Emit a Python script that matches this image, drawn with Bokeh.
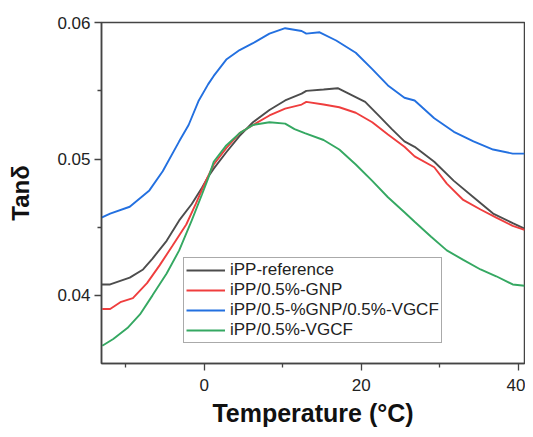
from bokeh.plotting import figure
from bokeh.models import Range1d, Legend, LegendItem, FixedTicker
from bokeh.embed import file_html
from bokeh.resources import INLINE

# ---- data ----
ref_x = [-13.1, -12, -9.5, -7.8, -6.6, -4.8, -3.2, -1.6, -0.3, 0.5, 1.2, 2.8, 4.5, 6.2, 8.3, 10.3, 12.4, 13.0,
         15.2, 17.0, 18.4, 20.5, 22.2, 23.9, 25.5, 26.8, 29.3, 31.8, 34.3, 36.8, 39.3, 40.8]
ref_y = [0.0408, 0.0408, 0.0413, 0.0419, 0.0427, 0.0440, 0.0455, 0.0467, 0.0479, 0.0487, 0.0493, 0.0505,
         0.0517, 0.0527, 0.0536, 0.0543, 0.0548, 0.0550, 0.0551, 0.0552, 0.0548, 0.0542, 0.0532, 0.0522,
         0.0513, 0.0509, 0.0498, 0.0484, 0.0472, 0.0460, 0.0453, 0.0449]

gnp_x = [-13.0, -12, -10.7, -9.1, -7.3, -5.7, -4.1, -2.3, -1.1, 0.2, 1.2, 2.8, 4.5, 6.2, 8.3, 10.3, 12.4, 13.0,
         15.2, 17.2, 19.3, 21.4, 23.4, 25.5, 26.8, 29.3, 30.9, 33.0, 35.2, 37.2, 39.3, 40.8]
gnp_y = [0.0390, 0.0390, 0.0395, 0.0398, 0.0409, 0.0422, 0.0436, 0.0452, 0.0467, 0.0484, 0.0496, 0.0508,
         0.0519, 0.0525, 0.0532, 0.0537, 0.0540, 0.0542, 0.0540, 0.0538, 0.0534, 0.0527, 0.0518, 0.0509,
         0.0502, 0.0494, 0.0482, 0.0470, 0.0463, 0.0457, 0.0451, 0.0448]

hyb_x = [-13.1, -12, -9.5, -7, -5.3, -3.2, -2, -0.7, 0.5, 1.2, 2.8, 4.5, 6.2, 8.3, 10.3, 12.4, 13.0, 14.7,
         16.8, 19.3, 21.4, 23.4, 25.5, 26.8, 29.3, 31.8, 34.3, 36.8, 39.3, 40.8]
hyb_y = [0.0457, 0.0460, 0.0465, 0.0477, 0.0491, 0.0513, 0.0525, 0.0543, 0.0555, 0.0561, 0.0573, 0.0580,
         0.0585, 0.0592, 0.0596, 0.0594, 0.0592, 0.0593, 0.0587, 0.0578, 0.0566, 0.0554, 0.0545, 0.0543,
         0.0530, 0.0520, 0.0513, 0.0507, 0.0504, 0.0504]

vgcf_x = [-13.0, -11.6, -9.8, -8.2, -6.6, -4.8, -3.2, -1.6, -0.3, 0.5, 1.2, 2.8, 4.5, 6.2, 8.3, 10.3, 11.5,
          12.8, 15.2, 17.2, 19.3, 21.4, 23.4, 25.5, 26.8, 28.9, 30.9, 33.0, 35.2, 37.2, 39.3, 40.8]
vgcf_y = [0.0363, 0.0368, 0.0376, 0.0386, 0.0400, 0.0416, 0.0433, 0.0455, 0.0474, 0.0486, 0.0498, 0.0510,
          0.0519, 0.0525, 0.0527, 0.0526, 0.0522, 0.0519, 0.0514, 0.0507, 0.0496, 0.0484, 0.0472, 0.0461,
          0.0454, 0.0443, 0.0433, 0.0426, 0.0419, 0.0414, 0.0408, 0.0407]

labels = ["iPP-reference", "iPP/0.5%-GNP", "iPP/0.5-%GNP/0.5%-VGCF", "iPP/0.5%-VGCF"]
colors = ["#4d4d4d", "#ef3e3e", "#2370e0", "#35a862"]

x_ticks = [0, 20, 40]
x_minor = [-10, 10, 30]
y_ticks = [0.04, 0.05, 0.06]
y_minor = [0.045, 0.055]

FONT = "Liberation Sans"
AX = "#444444"

p = figure(width=525, height=429, output_backend="svg", toolbar_location=None,
           x_range=Range1d(-13.1, 40.8), y_range=Range1d(0.035, 0.06002),
           min_border_left=101, min_border_right=1, min_border_top=22, min_border_bottom=63)

p.xgrid.visible = False
p.ygrid.visible = False
p.outline_line_color = AX
p.outline_line_width = 1.5
p.background_fill_color = "white"
p.border_fill_color = "white"

series = [(ref_x, ref_y), (gnp_x, gnp_y), (hyb_x, hyb_y), (vgcf_x, vgcf_y)]
renderers = []
for (xs, ys), c in zip(series, colors):
    r = p.line(xs, ys, line_color=c, line_width=1.9)
    renderers.append(r)

for ax in (p.xaxis[0], p.yaxis[0]):
    ax.axis_line_color = AX
    ax.axis_line_width = 1.5
    ax.major_tick_line_color = AX
    ax.minor_tick_line_color = AX
    ax.major_tick_line_width = 1.3
    ax.minor_tick_line_width = 1.3
    ax.major_tick_in = 0
    ax.major_tick_out = 7
    ax.minor_tick_in = 0
    ax.minor_tick_out = 4
    ax.major_label_text_font = FONT
    ax.major_label_text_font_size = "17px"
    ax.major_label_text_color = "#222222"
    ax.axis_label_text_font = FONT
    ax.axis_label_text_font_style = "bold"
    ax.axis_label_text_color = "#111111"

p.xaxis[0].ticker = FixedTicker(ticks=x_ticks, minor_ticks=x_minor)
p.yaxis[0].ticker = FixedTicker(ticks=y_ticks, minor_ticks=y_minor)

p.xaxis[0].axis_label = "Temperature (°C)"
p.xaxis[0].axis_label_text_font_size = "25px"
p.xaxis[0].major_label_standoff = 8
p.xaxis[0].axis_label_standoff = 5

p.yaxis[0].axis_label = "Tanδ"
p.yaxis[0].axis_label_text_font_size = "24px"
p.yaxis[0].major_label_standoff = 4
p.yaxis[0].axis_label_standoff = 20

legend = Legend(items=[LegendItem(label=l, renderers=[r]) for l, r in zip(labels, renderers)],
                location=(82, 20))
legend.label_text_font = FONT
legend.label_text_font_size = "17px"
legend.label_text_color = "#222222"
legend.label_height = 20
legend.glyph_height = 20
legend.glyph_width = 39
legend.label_standoff = 5
legend.padding = 2
legend.spacing = 0
legend.margin = 0
legend.border_line_color = "#555555"
legend.border_line_width = 1
legend.background_fill_alpha = 1
p.add_layout(legend, "center")

open("out.html", "w").write(file_html(p, INLINE))
